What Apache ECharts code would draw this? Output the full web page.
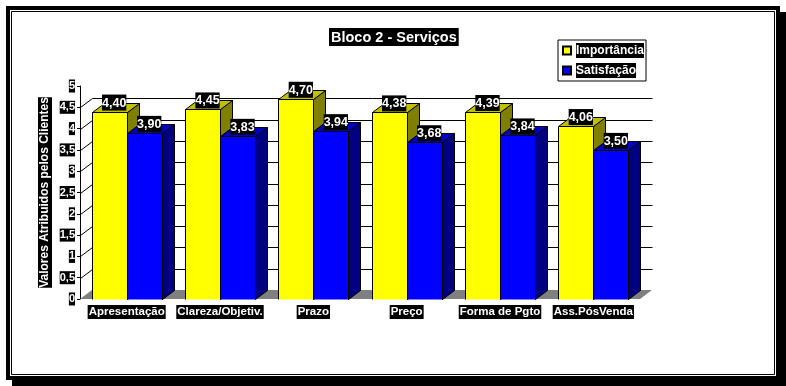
<!DOCTYPE html>
<html>
<head>
<meta charset="utf-8">
<script src="https://cdn.jsdelivr.net/npm/echarts@6/dist/echarts.min.js"></script>
<style>
  html, body { margin: 0; padding: 0; background: #fff; }
  #chart { width: 786px; height: 386px; }
</style>
</head>
<body>
<div id="chart"></div>
<script>
const categories = ['Apresentação', 'Clareza/Objetiv.', 'Prazo', 'Preço', 'Forma de Pgto', 'Ass.PósVenda'];
const importancia = [4.40, 4.45, 4.70, 4.38, 4.39, 4.06];
const satisfacao = [3.90, 3.83, 3.94, 3.68, 3.84, 3.50];
const wallTicks = [0, 0.5, 1, 1.5, 2, 2.5, 3, 3.5, 4, 4.5];

const FONT = 'Liberation Sans';
const DX = 12;
const DY = 9;
const BAR = 35;

const myChart = echarts.init(document.getElementById('chart'));

const comma = (v, d) => v.toFixed(d).replace('.', ',');
const px = v => Math.round(v) + 0.5;
const pxAll = pts => pts.map(p => [px(p[0]), px(p[1])]);

// back wall, floor and the little diagonals from the axis
function renderWall(params, api) {
  const v = api.value(0);
  const y = api.coord([0, v])[1];
  const left = params.coordSys.x;
  const right = left + params.coordSys.width;
  if (v === 0) {
    return {
      type: 'polygon',
      shape: { points: [[left, y], [right, y], [right + DX, y - DY], [left + DX, y - DY]] },
      style: { fill: '#808080' }
    };
  }
  return {
    type: 'polyline',
    shape: { points: [[px(left), px(y)], [px(left + DX), px(y - DY)], [px(right + DX), px(y - DY)]] },
    style: { fill: null, stroke: '#000', lineWidth: 1 }
  };
}

function barRenderer(side, front, top, dark) {
  return function (params, api) {
    const center = api.coord([api.value(0), 0])[0];
    const y0 = api.coord([0, 0])[1];
    const v = api.value(1);
    const y1 = api.coord([0, v])[1];
    const x0 = side < 0 ? center - BAR : center;
    const x1 = x0 + BAR;
    const edge = { stroke: '#000', lineWidth: 1 };
    return {
      type: 'group',
      children: [
        {
          type: 'polygon',
          shape: { points: pxAll([[x1, y1], [x1 + DX, y1 - DY], [x1 + DX, y0 - DY], [x1, y0]]) },
          style: Object.assign({ fill: dark }, edge)
        },
        {
          type: 'polygon',
          shape: { points: pxAll([[x0, y1], [x0 + DX, y1 - DY], [x1 + DX, y1 - DY], [x1, y1]]) },
          style: Object.assign({ fill: top }, edge)
        },
        {
          type: 'polygon',
          shape: { points: pxAll([[x0, y0], [x0, y1], [x1, y1], [x1, y0]]) },
          style: { fill: front }
        },
        {
          // front face has no line along the floor
          type: 'polyline',
          shape: { points: pxAll([[x0, y0], [x0, y1], [x1, y1], [x1, y0]]) },
          style: Object.assign({ fill: null }, edge)
        },
        {
          type: 'text',
          z2: 100,
          style: {
            text: comma(v, 2),
            x: (x0 + x1) / 2 + 5,
            y: y1 - 1,
            align: 'center',
            verticalAlign: 'bottom',
            fill: '#fff',
            font: 'bold 12.5px "' + FONT + '"',
            backgroundColor: '#000',
            padding: [2, 0, 1, 0]
          }
        }
      ]
    };
  };
}

const option = {
  animation: false,
  backgroundColor: '#fff',
  title: {
    text: 'Bloco 2 - Serviços',
    left: 329,
    top: 28,
    padding: [2, 2, 1, 2],
    backgroundColor: '#000',
    textStyle: { color: '#fff', fontFamily: FONT, fontWeight: 'bold', fontSize: 14.5 }
  },
  legend: {
    orient: 'vertical',
    left: 558,
    top: 40,
    padding: [3, 2, 3, 4],
    itemGap: 5,
    itemWidth: 8,
    itemHeight: 8,
    icon: 'rect',
    borderColor: '#000',
    borderWidth: 1,
    backgroundColor: '#fff',
    data: ['Importância', 'Satisfação'],
    textStyle: {
      color: '#fff',
      fontFamily: FONT,
      fontWeight: 'bold',
      fontSize: 12,
      backgroundColor: '#000',
      padding: [1, 0, 2, 0]
    }
  },
  grid: { left: 80, top: 86, width: 560, height: 213 },
  xAxis: {
    type: 'category',
    data: categories,
    axisLine: { show: false },
    axisTick: { show: false },
    axisLabel: {
      margin: 6,
      interval: 0,
      color: '#fff',
      fontFamily: FONT,
      fontWeight: 'bold',
      fontSize: 11.5,
      backgroundColor: '#000',
      padding: [1, 1, 1, 1]
    }
  },
  yAxis: {
    type: 'value',
    min: 0,
    max: 5,
    interval: 0.5,
    name: 'Valores Atribuidos pelos Clientes',
    nameLocation: 'middle',
    nameGap: 28,
    nameMoveOverlap: false,
    nameRotate: 90,
    nameTextStyle: {
      color: '#fff',
      fontFamily: FONT,
      fontWeight: 'bold',
      fontSize: 12,
      backgroundColor: '#000',
      padding: [1, 0, 1, 0]
    },
    axisLine: { show: true, lineStyle: { color: '#000', width: 1 } },
    axisTick: { show: true, length: 3, lineStyle: { color: '#000' } },
    splitLine: { show: false },
    axisLabel: {
      margin: 5,
      color: '#fff',
      fontFamily: FONT,
      fontWeight: 'bold',
      fontSize: 11,
      backgroundColor: '#000',
      padding: [1, 0, 1, 0],
      formatter: v => String(v).replace('.', ',')
    }
  },
  graphic: [
    // shadow, outer band, white panel and the thin inner line of the frame
    { type: 'rect', z: -10, silent: true, shape: { x: 12, y: 12, width: 774, height: 374 }, style: { fill: '#000' } },
    { type: 'rect', z: -9, silent: true, shape: { x: 6, y: 6, width: 774, height: 374 }, style: { fill: '#000' } },
    { type: 'rect', z: -8, silent: true, shape: { x: 10, y: 10, width: 766, height: 366 }, style: { fill: '#fff' } },
    { type: 'rect', z: -7, silent: true, shape: { x: 11.5, y: 11.5, width: 763, height: 363 }, style: { fill: '#fff', stroke: '#000', lineWidth: 1 } }
  ],
  series: [
    {
      type: 'custom',
      name: 'wall',
      z: 1,
      silent: true,
      clip: false,
      data: wallTicks.map(v => [v]),
      encode: { y: 0 },
      renderItem: renderWall
    },
    {
      type: 'custom',
      name: 'Importância',
      z: 3,
      clip: false,
      itemStyle: { color: '#ffff00', borderColor: '#000', borderWidth: 1 },
      data: importancia.map((v, i) => [i, v]),
      encode: { x: 0, y: 1 },
      renderItem: barRenderer(-1, '#ffff00', '#c0c000', '#808000')
    },
    {
      type: 'custom',
      name: 'Satisfação',
      z: 4,
      clip: false,
      itemStyle: { color: '#0000ff', borderColor: '#000', borderWidth: 1 },
      data: satisfacao.map((v, i) => [i, v]),
      encode: { x: 0, y: 1 },
      renderItem: barRenderer(1, '#0000ff', '#0000c0', '#000080')
    }
  ]
};

myChart.setOption(option);
</script>
</body>
</html>
